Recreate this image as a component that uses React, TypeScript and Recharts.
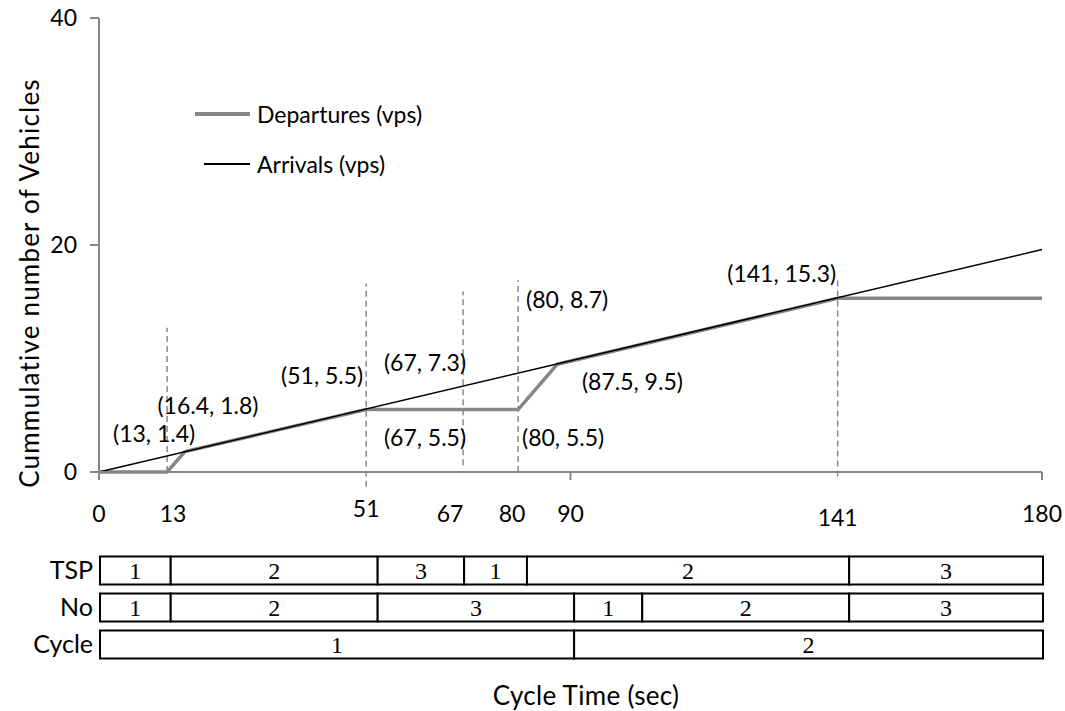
import {
  LineChart,
  Line,
  XAxis,
  YAxis,
  Legend,
  ReferenceLine,
  ReferenceDot,
  BarChart,
  Bar,
  LabelList,
} from "recharts";

const timeTicks = [0, 13, 51, 67, 80, 90, 141, 180];
const majorTimeTicks = [0, 90, 180];
const vehicleTicks = [0, 20, 40];

const departureTime = [0, 13, 16.4, 51, 80, 87.5, 141, 180];
const departureCount = [0, 0, 1.8, 5.5, 5.5, 9.5, 15.3, 15.3];
const arrivalTime = [0, 180];
const arrivalCount = [0, 19.6];

// dashed guides: position, top, bottom (a bit below the axis for some)
const guideTime = [13, 51, 69.5, 80, 141];
const guideTop = [12.7, 16.6, 15.9, 16.9, 16.9];
const guideBottom = [0, -1.3, 0.6, 0, -0.4];

// point labels
const noteTime = [13, 16.4, 51, 67, 67, 80, 80, 87.5, 141];
const noteCount = [1.4, 1.8, 5.5, 7.3, 5.5, 5.5, 8.7, 9.5, 15.3];
const noteShift = [
  [-13, -23],
  [23, -47],
  [-44, -35],
  [-25, -27],
  [-25, 27],
  [45, 27],
  [49, -74],
  [75, 17],
  [-56, -25],
];

// signal phase strips below the chart
const phaseRows = ["TSP", "No", "Cycle"];
const tspPhase = [1, 2, 3, 1, 2, 3];
const tspLength = [13.5, 39.5, 16.5, 12, 61.5, 37];
const noPhase = [1, 2, 3, 1, 2, 3];
const noLength = [13.5, 39.5, 37.5, 13, 39.5, 37];
const cyclePhase = [1, 2];
const cycleLength = [90.5, 89.5];

const legendOrder = ["Departures (vps)", "Arrivals (vps)"];

const SANS = "Lato, 'Open Sans', sans-serif";
const SERIF = "'Liberation Serif', 'Times New Roman', serif";
const AXIS = "#868686";

const departures = departureTime.map((t, i) => ({ t, n: departureCount[i] }));
const arrivals = arrivalTime.map((t, i) => ({ t, n: arrivalCount[i] }));

const phaseData = phaseRows.map((row, r) => {
  const phases = [tspPhase, noPhase, cyclePhase][r];
  const lengths = [tspLength, noLength, cycleLength][r];
  const rec: Record<string, any> = { row };
  lengths.forEach((len, i) => {
    rec[`d${i}`] = len;
    rec[`p${i}`] = phases[i];
  });
  return rec;
});

const tickNudge: Record<number, [number, number]> = {
  13: [6, 0],
  51: [0, -5],
  80: [-6, 0],
  141: [0, 4],
};

function TimeTick(props: any) {
  const { x, y, payload } = props;
  const v = payload.value;
  const [dx, dy] = tickNudge[v] ?? [0, 0];
  const axisY = y - 8;
  return (
    <g>
      {majorTimeTicks.includes(v) && (
        <line x1={x} x2={x} y1={axisY} y2={axisY + 8} stroke={AXIS} strokeWidth={2} />
      )}
      <text
        x={x + dx}
        y={axisY + 41 + dy}
        textAnchor="middle"
        dominantBaseline="central"
        fontFamily={SANS}
        fontSize={23}
        fill="#000"
      >
        {v}
      </text>
    </g>
  );
}

function YTitle(props: any) {
  const { viewBox } = props;
  const cx = viewBox.x + 29;
  const cy = viewBox.y + viewBox.height / 2 + 38;
  return (
    <text
      x={cx}
      y={cy}
      transform={`rotate(-90, ${cx}, ${cy})`}
      textAnchor="middle"
      dominantBaseline="central"
      fontFamily={SANS}
      fontSize={26}
      letterSpacing={1.2}
      fill="#000"
    >
      Cummulative number of Vehicles
    </text>
  );
}

function NoteLabel(props: any) {
  const { viewBox, dx, dy, text } = props;
  return (
    <text
      x={viewBox.x + dx}
      y={viewBox.y + dy}
      textAnchor="middle"
      dominantBaseline="central"
      fontFamily={SANS}
      fontSize={23}
      fill="#000"
    >
      {text}
    </text>
  );
}

function LegendBox(props: any) {
  const { payload = [] } = props;
  const items = [...payload].sort(
    (a: any, b: any) => legendOrder.indexOf(a.value) - legendOrder.indexOf(b.value)
  );
  return (
    <div style={{ fontFamily: SANS, fontSize: 23, color: "#000" }}>
      {items.map((entry: any, i: number) => {
        const w = entry.payload?.strokeWidth ?? 1.5;
        const sample = i === 0 ? 55 : 46;
        return (
          <div
            key={entry.value}
            style={{ display: "flex", alignItems: "center", height: 50, whiteSpace: "nowrap" }}
          >
            <span
              style={{
                display: "inline-block",
                width: sample,
                height: w,
                marginLeft: 55 - sample,
                background: entry.color,
              }}
            />
            <span style={{ marginLeft: 7 }}>{entry.value}</span>
          </div>
        );
      })}
    </div>
  );
}

export default function App() {
  return (
    <div
      style={{
        position: "absolute",
        left: 0,
        top: 0,
        width: 1065,
        height: 711,
        background: "#fff",
        fontFamily: SANS,
      }}
    >
      <div style={{ position: "absolute", left: 0, top: 0 }}>
        <LineChart width={1065} height={545} margin={{ top: 18, right: 23, left: 0, bottom: 13 }}>
          <XAxis
            dataKey="t"
            type="number"
            domain={[0, 180]}
            ticks={timeTicks}
            interval={0}
            height={60}
            axisLine={{ stroke: AXIS, strokeWidth: 2 }}
            tickLine={false}
            tickSize={8}
            tickMargin={0}
            tick={<TimeTick />}
          />
          <YAxis
            type="number"
            domain={[0, 40]}
            ticks={vehicleTicks}
            width={99}
            axisLine={{ stroke: AXIS, strokeWidth: 2 }}
            tickLine={{ stroke: AXIS, strokeWidth: 2 }}
            tickSize={9}
            tickMargin={13}
            tick={{ fontFamily: SANS, fontSize: 23, fill: "#000" }}
            label={<YTitle />}
          />
          {guideTime.map((t, i) => (
            <ReferenceLine
              key={`g${i}`}
              segment={[
                { x: t, y: guideBottom[i] },
                { x: t, y: guideTop[i] },
              ]}
              stroke="#8a8a8a"
              strokeWidth={1.5}
              strokeDasharray="6 4"
              ifOverflow="visible"
            />
          ))}
          <Line
            data={departures}
            dataKey="n"
            name="Departures (vps)"
            type="linear"
            stroke="#868686"
            strokeWidth={3.5}
            dot={false}
            activeDot={false}
            isAnimationActive={false}
          />
          <Line
            data={arrivals}
            dataKey="n"
            name="Arrivals (vps)"
            type="linear"
            stroke="#000"
            strokeWidth={1.5}
            dot={false}
            activeDot={false}
            isAnimationActive={false}
          />
          {noteTime.map((t, i) => (
            <ReferenceDot
              key={`n${i}`}
              x={t}
              y={noteCount[i]}
              r={0}
              fill="none"
              stroke="none"
              label={<NoteLabel dx={noteShift[i][0]} dy={noteShift[i][1]} text={`(${t}, ${noteCount[i]})`} />}
            />
          ))}
          <Legend
            layout="vertical"
            align="center"
            verticalAlign="middle"
            content={<LegendBox />}
            wrapperStyle={{ left: 195, top: 89, width: 300 }}
          />
        </LineChart>
      </div>

      <div style={{ position: "absolute", left: 0, top: 540 }}>
        <BarChart
          layout="vertical"
          width={1065}
          height={130}
          data={phaseData}
          margin={{ top: 11.5, right: 22, left: 0, bottom: 7.5 }}
          barSize={28}
        >
          <XAxis type="number" domain={[0, 180]} hide />
          <YAxis
            type="category"
            dataKey="row"
            width={100}
            axisLine={false}
            tickLine={false}
            tickSize={0}
            tickMargin={7}
            tick={{ fontFamily: SANS, fontSize: 25, fill: "#000" }}
          />
          {[0, 1, 2, 3, 4, 5].map((i) => (
            <Bar
              key={i}
              dataKey={`d${i}`}
              stackId="phase"
              fill="#fff"
              stroke="#000"
              strokeWidth={2}
              isAnimationActive={false}
            >
              <LabelList
                dataKey={`p${i}`}
                position="center"
                fontFamily={SERIF}
                fontSize={24}
                fill="#000"
              />
            </Bar>
          ))}
        </BarChart>
      </div>

      <div
        style={{
          position: "absolute",
          left: 386,
          top: 679,
          width: 400,
          textAlign: "center",
          fontSize: 26,
          lineHeight: "32px",
          letterSpacing: 0.3,
          color: "#000",
          fontFamily: SANS,
        }}
      >
        Cycle Time (sec)
      </div>
    </div>
  );
}
